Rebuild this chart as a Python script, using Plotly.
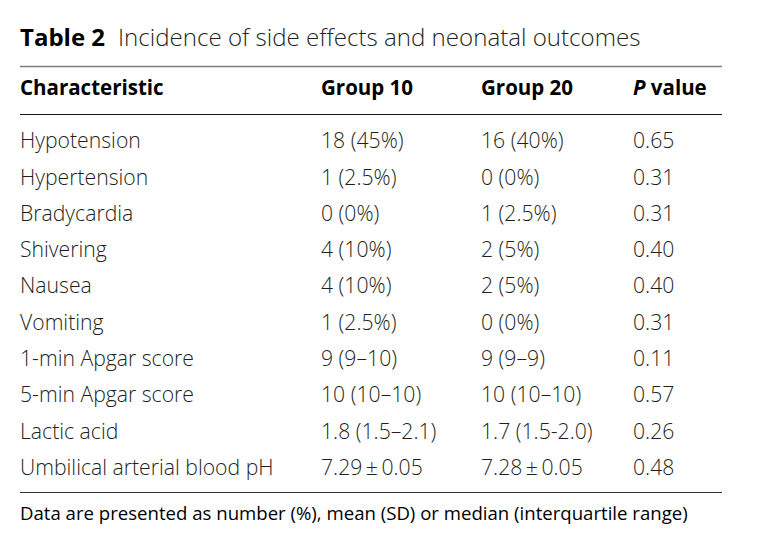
import plotly.graph_objects as go

title_bold = "Table 2"
title_text = "Incidence of side effects and neonatal outcomes"
headers = ["Characteristic", "Group 10", "Group 20", "<i>P</i> value"]
characteristics = ["Hypotension", "Hypertension", "Bradycardia", "Shivering", "Nausea",
                   "Vomiting", "1-min Apgar score", "5-min Apgar score", "Lactic acid",
                   "Umbilical arterial blood pH"]
group10 = ["18 (45%)", "1 (2.5%)", "0 (0%)", "4 (10%)", "4 (10%)", "1 (2.5%)",
           "9 (9–10)", "10 (10–10)", "1.8 (1.5–2.1)", "7.29\u2009±\u20090.05"]
group20 = ["16 (40%)", "0 (0%)", "1 (2.5%)", "2 (5%)", "2 (5%)", "0 (0%)",
           "9 (9–9)", "10 (10–10)", "1.7 (1.5-2.0)", "7.28\u2009±\u20090.05"]
p_values = ["0.65", "0.31", "0.31", "0.40", "0.40", "0.31", "0.11", "0.57", "0.26", "0.48"]
footnote = "Data are presented as number (%), mean (SD) or median (interquartile range)"

W, H = 779, 547
FONT = "Open Sans"
TXT = "#231f20"
col_x = [20, 321, 481, 633]
title_y = 40
header_y = 90
row0_y = 143
row_pitch = 36.3
foot_y = 515
row_y = [row0_y + i * row_pitch for i in range(len(characteristics))]

fig = go.Figure()

# title
fig.add_trace(go.Scatter(x=[20], y=[title_y], mode="text", text=[f"<b>{title_bold}</b>"],
                         textposition="middle right",
                         textfont=dict(family=FONT, size=24, color="#000000"),
                         hoverinfo="skip", showlegend=False))
fig.add_trace(go.Scatter(x=[118], y=[title_y], mode="text", text=[title_text],
                         textposition="middle right",
                         textfont=dict(family=FONT, size=24.1, color=TXT, weight=300),
                         hoverinfo="skip", showlegend=False))
# header
fig.add_trace(go.Scatter(x=col_x, y=[header_y] * 4, mode="text",
                         text=[f"<b>{h}</b>" for h in headers],
                         textposition="middle right",
                         textfont=dict(family=FONT, size=20.5, color="#000000"),
                         hoverinfo="skip", showlegend=False))
# body columns
for cx, col in zip(col_x, [characteristics, group10, group20, p_values]):
    fig.add_trace(go.Scatter(x=[cx] * len(col), y=row_y, mode="text", text=col,
                             textposition="middle right",
                             textfont=dict(family=FONT, size=21.2, color=TXT, weight=300),
                             hoverinfo="skip", showlegend=False))
# footnote
fig.add_trace(go.Scatter(x=[20], y=[foot_y], mode="text", text=[footnote],
                         textposition="middle right",
                         textfont=dict(family=FONT, size=18.6, color="#000000"),
                         hoverinfo="skip", showlegend=False))

for y, c, w in [(66.5, "#7f7f7f", 1.3), (114.5, "#1a1a1a", 1), (492.5, "#333333", 1)]:
    fig.add_shape(type="line", x0=20, x1=722, y0=y, y1=y, xref="x", yref="y",
                  line=dict(color=c, width=w))

fig.update_layout(
    width=W, height=H, margin=dict(l=0, r=0, t=0, b=0),
    paper_bgcolor="white", plot_bgcolor="white",
    xaxis=dict(range=[0, W], visible=False, fixedrange=True),
    yaxis=dict(range=[H, 0], visible=False, fixedrange=True),
    showlegend=False,
)
fig.write_html("out.html", config={"displayModeBar": False},
               post_script="document.body.style.margin='0';document.body.style.overflow='hidden';")
